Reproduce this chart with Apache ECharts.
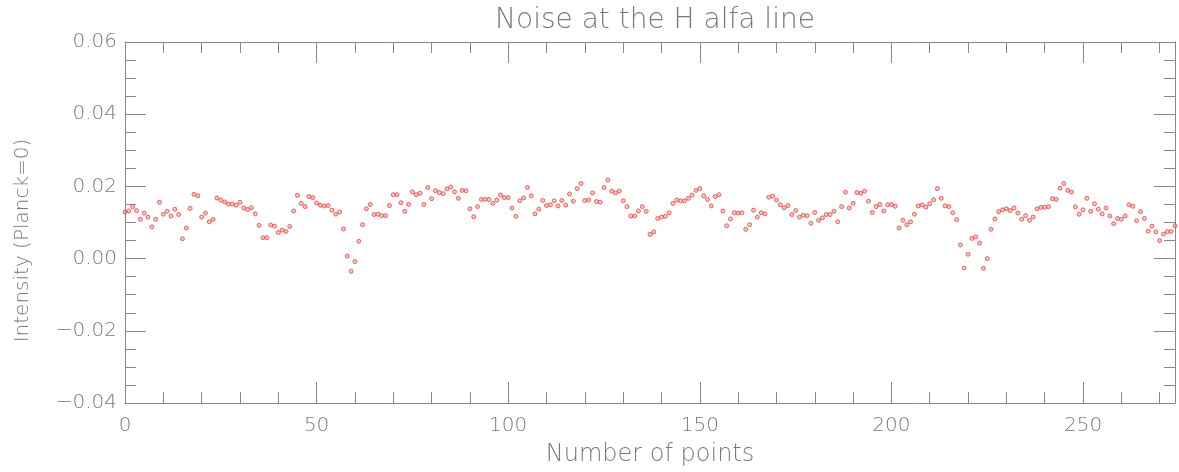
<!DOCTYPE html>
<html>
<head>
<meta charset="utf-8">
<title>Noise at the H alfa line</title>
<script src="https://cdn.jsdelivr.net/npm/echarts@6/dist/echarts.min.js"></script>
<style>
    html, body { margin: 0; padding: 0; background: #fff; }
    #chart { width: 1179px; height: 472px; }
</style>
</head>
<body>
<div id="chart"></div>
<script>
    // intensity values, one per point (index = point number)
    var intensity = [
        0.0129, 0.0132, 0.0144, 0.0133, 0.0109, 0.0126, 0.0115, 0.0088, 0.0109, 0.0156,
        0.0123, 0.0131, 0.0118, 0.0137, 0.0122, 0.0055, 0.0085, 0.0139, 0.0178, 0.0174,
        0.0115, 0.0126, 0.0102, 0.0109, 0.0168, 0.0162, 0.0157, 0.0151, 0.0151, 0.0148,
        0.0156, 0.0140, 0.0136, 0.0141, 0.0124, 0.0092, 0.0058, 0.0058, 0.0093, 0.0090,
        0.0072, 0.0079, 0.0075, 0.0089, 0.0132, 0.0175, 0.0153, 0.0144, 0.0172, 0.0169,
        0.0154, 0.0148, 0.0146, 0.0147, 0.0134, 0.0123, 0.0129, 0.0082, 0.0007, -0.0035,
        -0.0008, 0.0048, 0.0094, 0.0138, 0.0150, 0.0122, 0.0123, 0.0119, 0.0119, 0.0147,
        0.0177, 0.0177, 0.0155, 0.0131, 0.0150, 0.0185, 0.0177, 0.0181, 0.0150, 0.0197,
        0.0166, 0.0188, 0.0183, 0.0180, 0.0193, 0.0198, 0.0185, 0.0167, 0.0189, 0.0188,
        0.0138, 0.0116, 0.0144, 0.0164, 0.0164, 0.0164, 0.0153, 0.0162, 0.0176, 0.0169,
        0.0169, 0.0140, 0.0117, 0.0160, 0.0168, 0.0197, 0.0174, 0.0124, 0.0137, 0.0161,
        0.0147, 0.0149, 0.0160, 0.0146, 0.0161, 0.0148, 0.0179, 0.0159, 0.0194, 0.0208,
        0.0161, 0.0162, 0.0182, 0.0158, 0.0156, 0.0197, 0.0218, 0.0187, 0.0182, 0.0187,
        0.0160, 0.0144, 0.0118, 0.0118, 0.0132, 0.0144, 0.0131, 0.0067, 0.0074, 0.0111,
        0.0115, 0.0117, 0.0127, 0.0153, 0.0162, 0.0160, 0.0160, 0.0167, 0.0176, 0.0189,
        0.0194, 0.0174, 0.0164, 0.0146, 0.0172, 0.0177, 0.0132, 0.0091, 0.0110, 0.0127,
        0.0126, 0.0127, 0.0081, 0.0094, 0.0134, 0.0115, 0.0127, 0.0124, 0.0170, 0.0173,
        0.0162, 0.0149, 0.0141, 0.0147, 0.0122, 0.0133, 0.0115, 0.0120, 0.0119, 0.0098,
        0.0128, 0.0106, 0.0113, 0.0122, 0.0122, 0.0131, 0.0102, 0.0144, 0.0184, 0.0140,
        0.0153, 0.0183, 0.0181, 0.0187, 0.0159, 0.0128, 0.0144, 0.0150, 0.0132, 0.0149,
        0.0150, 0.0145, 0.0085, 0.0106, 0.0094, 0.0102, 0.0123, 0.0146, 0.0149, 0.0143,
        0.0152, 0.0163, 0.0194, 0.0167, 0.0146, 0.0144, 0.0127, 0.0108, 0.0038, -0.0026,
        0.0012, 0.0056, 0.0060, 0.0043, -0.0027, 0.0000, 0.0081, 0.0110, 0.0130, 0.0135,
        0.0138, 0.0133, 0.0140, 0.0126, 0.0109, 0.0119, 0.0106, 0.0115, 0.0138, 0.0142,
        0.0142, 0.0144, 0.0166, 0.0164, 0.0195, 0.0208, 0.0189, 0.0184, 0.0143, 0.0123,
        0.0135, 0.0167, 0.0131, 0.0152, 0.0137, 0.0124, 0.0140, 0.0118, 0.0097, 0.0111,
        0.0109, 0.0118, 0.0149, 0.0145, 0.0105, 0.0130, 0.0111, 0.0076, 0.0090, 0.0074,
        0.0050, 0.0068, 0.0075, 0.0075, 0.0091
    ];
    // axis ranges / ticks
    var xRange = [0, 274];
    var xMajorStep = 50;
    var xMinorStep = 10;
    var yRange = [-0.04, 0.06];
    var yMajorStep = 0.02;

    var points = [];
    for (let i = 0; i < intensity.length; i++) {
        points.push([i, intensity[i]]);
    }

    var axisColor = '#888';
    var textColor = '#7a7a7a';
    var font = '"DejaVu Sans", sans-serif';

    // x axis: one long-tick axis (labels) + one short-tick axis, on bottom and top
    function xAxisOf(position, step, tickLen, withLabels) {
        return {
            type: 'value',
            position: position,
            min: xRange[0],
            max: xRange[1],
            interval: step,
            name: withLabels ? 'Number of points' : '',
            nameLocation: 'middle',
            nameGap: 40,
            nameTextStyle: { color: textColor, fontSize: 24, fontFamily: font, fontWeight: 200 },
            axisLine: { show: tickLen > 15, onZero: false, lineStyle: { color: axisColor, width: 1 } },
            axisTick: { show: true, inside: true, length: tickLen, lineStyle: { color: axisColor } },
            axisLabel: {
                show: withLabels,
                color: textColor,
                fontSize: 20,
                fontFamily: font,
                fontWeight: 200,
                margin: 13,
                showMaxLabel: false,
                formatter: function (v) { return v % xMajorStep === 0 ? String(v) : ''; }
            },
            splitLine: { show: false }
        };
    }

    function yAxisOf(position, withLabels) {
        return {
            type: 'value',
            position: position,
            min: yRange[0],
            max: yRange[1],
            interval: yMajorStep,
            name: withLabels ? 'Intensity (Planck=0)' : '',
            nameLocation: 'middle',
            nameGap: 92,
            // padding on the (rotated) right pushes the name down the axis
            nameTextStyle: { color: textColor, fontSize: 20, fontFamily: font, fontWeight: 200, padding: [0, 36, 0, 0] },
            axisLine: { show: true, onZero: false, lineStyle: { color: axisColor, width: 1 } },
            axisTick: { show: true, inside: true, length: 21, lineStyle: { color: axisColor } },
            minorTick: { show: true, splitNumber: 4, length: 11, lineStyle: { color: axisColor } },
            axisLabel: {
                show: withLabels,
                color: textColor,
                fontSize: 20,
                fontFamily: font,
                fontWeight: 200,
                margin: 8,
                formatter: function (v) { return v.toFixed(2).replace('-', '\u2212'); }
            },
            splitLine: { show: false }
        };
    }

    var myChart = echarts.init(document.getElementById('chart'));
    myChart.setOption({
        animation: false,
        backgroundColor: '#fff',
        title: {
            text: 'Noise at the H alfa line',
            left: 650,
            top: 2,
            textAlign: 'center',
            textStyle: { color: textColor, fontSize: 28, fontFamily: font, fontWeight: 200 }
        },
        grid: {
            left: 125,
            right: 4,
            top: 42,
            bottom: 68
        },
        xAxis: [
            xAxisOf('bottom', xMajorStep, 21, true),
            xAxisOf('bottom', xMinorStep, 11, false),
            xAxisOf('top', xMajorStep, 21, false),
            xAxisOf('top', xMinorStep, 11, false)
        ],
        yAxis: [
            yAxisOf('left', true),
            yAxisOf('right', false)
        ],
        series: [
            {
                type: 'scatter',
                xAxisIndex: 0,
                yAxisIndex: 0,
                data: points,
                symbol: 'circle',
                symbolSize: 4,
                itemStyle: {
                    color: 'rgba(240,130,130,0.6)',
                    borderColor: '#d94848',
                    borderWidth: 1
                }
            }
        ]
    });
</script>
</body>
</html>
